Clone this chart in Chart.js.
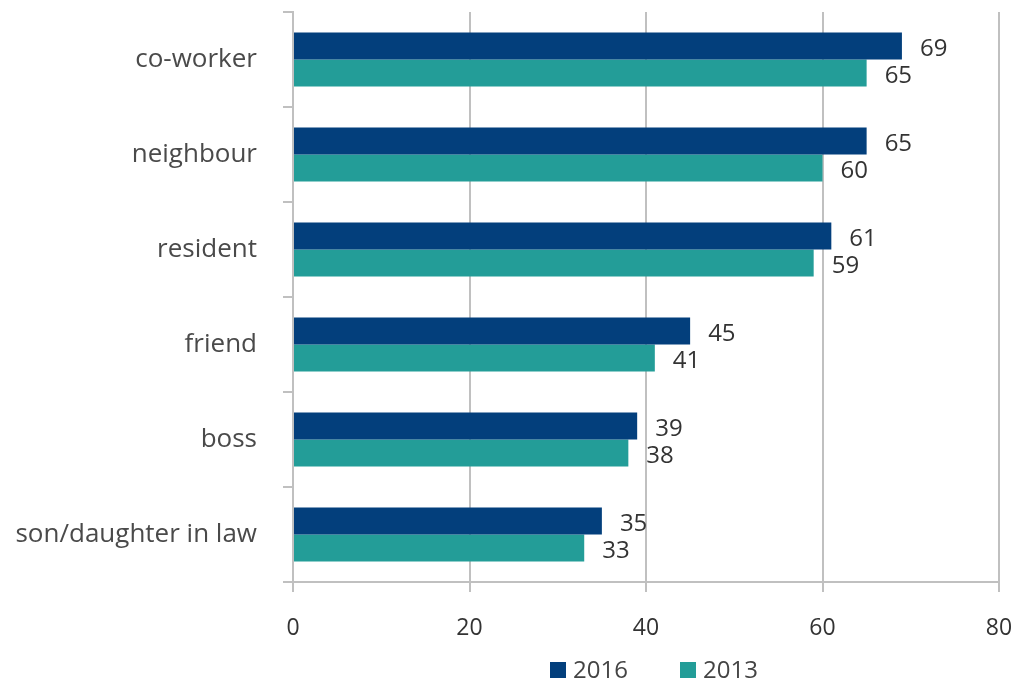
<!DOCTYPE html>
<html>
<head>
<meta charset="utf-8">
<script src="https://cdn.jsdelivr.net/npm/chart.js@4.4.0/dist/chart.umd.min.js"></script>
<style>
  body { margin: 0; background: #fff; }
  #wrap { width: 1014px; height: 684px; }
</style>
</head>
<body>
<div id="wrap"><canvas id="myChart" width="1014" height="684"></canvas></div>
<script>
var categories = ["co-worker", "neighbour", "resident", "friend", "boss", "son/daughter in law"];
var values2016 = [69, 65, 61, 45, 39, 35];
var values2013 = [65, 60, 59, 41, 38, 33];
var xTicks = [0, 20, 40, 60, 80];

var fontName = "'Open Sans', 'Noto Sans', sans-serif";

// draws the numbers right of each bar
var valueLabels = {
    id: "valueLabels",
    afterDatasetsDraw: function(chart) {
        var ctx = chart.ctx;
        ctx.save();
        ctx.font = "24px " + fontName;
        ctx.fillStyle = "#333";
        ctx.textBaseline = "middle";
        ctx.textAlign = "left";
        chart.data.datasets.forEach(function(ds, i) {
            var meta = chart.getDatasetMeta(i);
            meta.data.forEach(function(bar, j) {
                ctx.fillText(ds.data[j], bar.x + 18, bar.y + 3);
            });
        });
        ctx.restore();
    }
};

// legend at the bottom, drawn by hand so the spacing matches
var bottomLegend = {
    id: "bottomLegend",
    afterDraw: function(chart) {
        var ctx = chart.ctx;
        var xs = [550, 680];
        var y = 670;
        ctx.save();
        ctx.font = "24px " + fontName;
        ctx.textBaseline = "middle";
        ctx.textAlign = "left";
        chart.data.datasets.forEach(function(ds, i) {
            ctx.fillStyle = ds.backgroundColor;
            ctx.fillRect(xs[i], y - 8, 16, 16);
            ctx.fillStyle = "#444";
            ctx.fillText(ds.label, xs[i] + 23, y + 1);
        });
        ctx.restore();
    }
};

new Chart("myChart", {
    type: "bar",
    data: {
        labels: categories,
        datasets: [{
            label: "2016",
            data: values2016,
            backgroundColor: "#033f7c",
            barPercentage: 1.0,
            categoryPercentage: 0.57
        }, {
            label: "2013",
            data: values2013,
            backgroundColor: "#239d98",
            barPercentage: 1.0,
            categoryPercentage: 0.57
        }]
    },
    options: {
        indexAxis: "y",
        responsive: false,
        animation: false,
        layout: {padding: {top: 12, right: 0, left: 0, bottom: 40}},
        plugins: {
            legend: {display: false},
            tooltip: {enabled: false}
        },
        scales: {
            x: {
                min: 0,
                max: 80,
                afterBuildTicks: function(scale) {
                    scale.ticks = xTicks.map(function(v) { return {value: v}; });
                },
                grid: {
                    color: "#c0c0c0",
                    lineWidth: 2,
                    tickLength: 10
                },
                border: {color: "#c0c0c0", width: 2},
                ticks: {
                    color: "#333",
                    padding: 23,
                    font: {size: 23, family: fontName}
                },
                afterFit: function(scale) {
                    scale.height = 62;
                    scale.paddingLeft = 0;
                    scale.paddingRight = 15;
                }
            },
            y: {
                offset: true,
                grid: {
                    offset: true,
                    drawOnChartArea: false,
                    color: "#c0c0c0",
                    lineWidth: 2,
                    tickLength: 10
                },
                border: {color: "#c0c0c0", width: 2},
                ticks: {
                    color: "#4a4a4a",
                    padding: 26,
                    font: {size: 26, family: fontName}
                },
                afterFit: function(scale) {
                    scale.width = 293;
                    scale.paddingTop = 0;
                    scale.paddingBottom = 0;
                }
            }
        }
    },
    plugins: [valueLabels, bottomLegend]
});
</script>
</body>
</html>
